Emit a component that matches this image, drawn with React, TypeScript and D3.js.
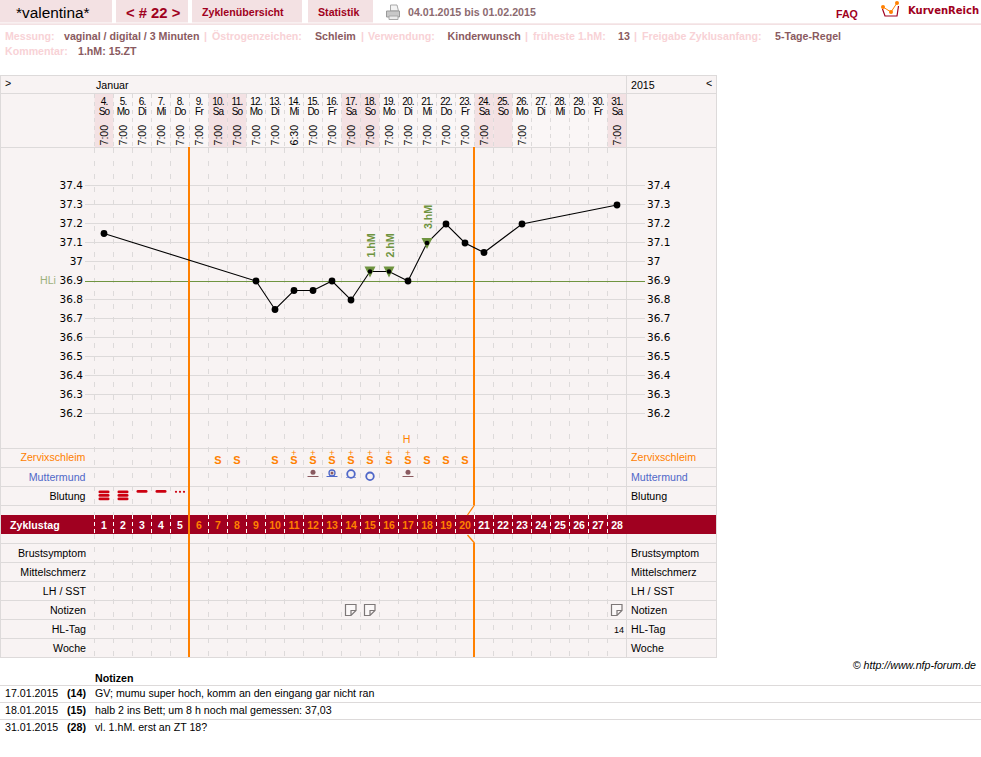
import React from "react";
import * as d3 from "d3";

// calendar
const dates = d3.range(4, 32);
const weekdays = ["So","Mo","Di","Mi","Do","Fr","Sa","So","Mo","Di","Mi","Do","Fr","Sa","So","Mo","Di","Mi","Do","Fr","Sa","So","Mo","Di","Mi","Do","Fr","Sa"];
const times: Record<number, string> = {4:"7:00",5:"7:00",6:"7:00",7:"7:00",8:"7:00",9:"7:00",10:"7:00",11:"7:00",12:"7:00",13:"7:00",14:"6:30",15:"7:00",16:"7:00",17:"7:00",18:"7:00",19:"7:00",20:"7:00",21:"7:00",22:"7:00",23:"7:00",24:"7:00",26:"7:00",31:"7:00"};

// temperature
const tempDates = [4, 12, 13, 14, 15, 16, 17, 18, 19, 20, 21, 22, 23, 24, 26, 31];
const tempValues = [37.15, 36.9, 36.75, 36.85, 36.85, 36.9, 36.8, 36.95, 36.95, 36.9, 37.1, 37.2, 37.1, 37.05, 37.2, 37.3];
const yTicks = [37.4, 37.3, 37.2, 37.1, 37, 36.9, 36.8, 36.7, 36.6, 36.5, 36.4, 36.3, 36.2];
const coverLine = 36.9;
const peakMarks = [{ date: 18, label: "1.hM" }, { date: 19, label: "2.hM" }, { date: 21, label: "3.hM" }];

// cycle rows, keyed by cycle day
const cycleDays = d3.range(1, 29);
const mucusPlain = [7, 8, 10, 18, 19, 20];
const mucusPlus = [11, 12, 13, 14, 15, 16, 17];
const mucusPeak = 17;
const cervixDot = [12, 17];
const cervixHalf = [13];
const cervixOpenHigh = [14];
const cervixOpenLow = [15];
const bleedHeavy = [1, 2];
const bleedMedium = [3, 4];
const bleedLight = [5];
const noteDays = [14, 15, 28];
const hlDay = 28;
const hlCount = "14";
const phaseStart = 6;
const phaseEnd = 21;

const lowerRows = ["Brustsymptom", "Mittelschmerz", "LH / SST", "Notizen", "HL-Tag", "Woche"];
const notes = [
  { date: "17.01.2015", day: "(14)", text: "GV; mumu super hoch, komm an den eingang gar nicht ran" },
  { date: "18.01.2015", day: "(15)", text: "halb 2 ins Bett; um 8 h noch mal gemessen: 37,03" },
  { date: "31.01.2015", day: "(28)", text: "vl. 1.hM. erst an ZT 18?" },
];

const width = 981, height = 757;
const font = "'Liberation Sans', Arial, sans-serif";
const grid = "#dddada", pink = "#f3e1e3", panel = "#f8f3f3", wine = "#a00020", orange = "#ff8000";
const green = "#6f9440", blue = "#5068c8", brown = "#8a5a60", faint = "#f8d2d6";

const x = d3.scaleBand<number>().domain(dates).range([94.5, 626.5]);
const cx = (d: number) => x(d)! + x.bandwidth() / 2;
const dayX = d3.scaleBand<number>().domain(cycleDays).range([94.5, 626.5]);
const dx = (d: number) => dayX(d)! + dayX.bandwidth() / 2;
const y = d3.scaleLinear().domain([36.2, 37.4]).range([414, 186]);
const line = d3.line<number>().x((_, i) => cx(tempDates[i])).y((v) => y(v));
const rowLines = [448, 467, 486, 505, 543, 562, 581, 600, 619, 638];

const HLine = ({ y0, x1 = 1, x2 = 716, c = grid }: { y0: number; x1?: number; x2?: number; c?: string }) => (
  <line x1={x1} x2={x2} y1={y0 + 0.5} y2={y0 + 0.5} stroke={c} shapeRendering="crispEdges" />
);

const Tab = ({ a, b }: { a: number; b: number }) => <rect x={a} y={0} width={b - a} height={22.5} fill={pink} />;

const Note = ({ cxp }: { cxp: number }) => (
  <path
    d={`M${cxp - 5.5},604.5 h10.5 v6 l-5,5 h-5.5 z M${cxp + 5},610.5 h-5 v5`}
    fill="#fbf8f8"
    stroke="#7d7878"
    strokeWidth={1.2}
  />
);

export default function App() {
  const xs = d3.range(0, 29).map((i) => 94 + i * 19);
  return (
    <svg width={width} height={height} style={{ position: "absolute", left: 0, top: 0, fontFamily: font, fontSize: 10.65 }}>
      {/* header tabs */}
      <Tab a={0} b={112} />
      <Tab a={116} b={188} />
      <Tab a={192} b={302} />
      <Tab a={308} b={373} />
      <rect x={0} y={23.3} width={981} height={1.7} fill={pink} />
      <text x={16} y={18} fontSize={15.4}>*valentina*</text>
      <text x={126} y={18} fontSize={14.8} fontWeight="bold" fill={wine}>{"< # 22 >"}</text>
      <text x={202} y={16} fontWeight="bold" fill={wine}>Zyklenübersicht</text>
      <text x={318} y={16} fontWeight="bold" fill={wine}>Statistik</text>
      <path d="M390.5,5 h6.5 l1.5,6 h-8 z" fill="#f4f4f4" stroke="#a8a8a8" />
      <path d="M386.5,11 h13 v6 h-13 z" fill="#c8c8c8" stroke="#9a9a9a" />
      <path d="M389,16 h9 v3.5 h-9 z" fill="#ececec" stroke="#a8a8a8" />
      <text x={408} y={16} fontWeight="bold" fill="#8c6a70">04.01.2015 bis 01.02.2015</text>
      <text x={836} y={18} fontWeight="bold" fill={wine}>FAQ</text>
      <path d="M882.5,9 L885,16 H897 L898.5,6" fill="none" stroke={wine} strokeWidth={1.2} />
      <path d="M883,7 L891,12 L897,3" fill="none" stroke={orange} strokeWidth={1} />
      <circle cx={883} cy={7} r={2} fill={orange} />
      <circle cx={891} cy={12} r={2} fill={orange} />
      <circle cx={897} cy={3} r={2} fill={orange} />
      <text x={908} y={14} fontFamily="'DejaVu Sans'" fontSize={10} fontWeight="bold" fill={wine}>KurvenReich</text>

      {/* settings lines */}
      <g fontWeight="bold" fill={faint}>
        <text x={5} y={40}>Messung:</text>
        <text x={64} y={40} fill={brown}>vaginal / digital / 3 Minuten</text>
        <text x={204} y={40}>|</text>
        <text x={212} y={40}>Östrogenzeichen:</text>
        <text x={315} y={40} fill={brown}>Schleim</text>
        <text x={361} y={40}>|</text>
        <text x={368} y={40}>Verwendung:</text>
        <text x={447.5} y={40} fill={brown}>Kinderwunsch</text>
        <text x={525} y={40}>|</text>
        <text x={533} y={40}>früheste 1.hM:</text>
        <text x={618} y={40} fill={brown}>13</text>
        <text x={634} y={40}>|</text>
        <text x={642} y={40}>Freigabe Zyklusanfang:</text>
        <text x={775} y={40} fill={brown}>5-Tage-Regel</text>
        <text x={5} y={55}>Kommentar:</text>
        <text x={78} y={55} fill={brown}>1.hM: 15.ZT</text>
      </g>

      {/* chart panel */}
      <rect x={1} y={75} width={716} height={583} fill={panel} />
      {dates.map((d, i) => (
        <rect key={d} x={x(d)} y={94} width={x.bandwidth()} height={54}
          fill={weekdays[i] === "Sa" || weekdays[i] === "So" ? pink : "#faf6f6"} />
      ))}
      <rect x={1} y={515} width={716} height={19} fill={wine} />

      {xs.map((v) => (
        <line key={v} x1={v + 0.5} x2={v + 0.5} y1={94} y2={148} stroke={grid} strokeDasharray="4 4" shapeRendering="crispEdges" />
      ))}
      {xs.slice(0, 28).map((v) => (
        <g key={v}>
          <line x1={v + 0.5} x2={v + 0.5} y1={148} y2={515} stroke={grid} strokeDasharray="5 8" shapeRendering="crispEdges" />
          <line x1={v + 0.5} x2={v + 0.5} y1={515} y2={534} stroke="#fff" strokeDasharray="4 3" shapeRendering="crispEdges" />
          <line x1={v + 0.5} x2={v + 0.5} y1={534} y2={657} stroke={grid} strokeDasharray="5 8" shapeRendering="crispEdges" />
        </g>
      ))}

      {/* frame */}
      <HLine y0={75} x1={0} x2={717} />
      <HLine y0={93} x1={0} x2={717} />
      <HLine y0={147} x1={0} x2={717} />
      {rowLines.map((r) => <HLine key={r} y0={r} />)}
      <HLine y0={657} x1={0} x2={717} />
      <line x1={0.5} x2={0.5} y1={75} y2={658} stroke={grid} />
      <line x1={716.5} x2={716.5} y1={75} y2={658} stroke={grid} />
      <line x1={626.5} x2={626.5} y1={75} y2={515} stroke={grid} />
      <line x1={626.5} x2={626.5} y1={534} y2={658} stroke={grid} />

      <text x={5} y={87}>{">"}</text>
      <text x={96} y={89}>Januar</text>
      <text x={631} y={89}>2015</text>
      <text x={706} y={87}>{"<"}</text>

      {dates.map((d, i) => (
        <g key={d} textAnchor="middle" fontSize={10} letterSpacing={-0.8}>
          <text x={cx(d)} y={105}>{d}.</text>
          <text x={cx(d)} y={115}>{weekdays[i]}</text>
          {times[d] && (
            <text transform={`translate(${cx(d) + 4},145.5) rotate(-90)`} textAnchor="start" fontSize={10.65} letterSpacing={0}>{times[d]}</text>
          )}
        </g>
      ))}

      {/* temperature */}
      {yTicks.map((t) => (
        <g key={t} fontFamily="'DejaVu Sans'" fontSize={10.5}>
          <HLine y0={Math.round(y(t)) - (t === coverLine ? 0 : 1)} x1={85} x2={645} c={t === coverLine ? green : grid} />
          <text x={83} y={y(t) + 3} textAnchor="end">{t}</text>
          <text x={647} y={y(t) + 3}>{t}</text>
        </g>
      ))}
      <text x={40} y={y(coverLine) + 3} fill="#9cb07c">HLi</text>

      {/* phase lines */}
      <line x1={x(phaseStart + 3)! - 0.5} x2={x(phaseStart + 3)! - 0.5} y1={147} y2={657} stroke={orange} strokeWidth={2} />
      <line x1={x(phaseEnd + 3)! - 0.5} x2={x(phaseEnd + 3)! - 0.5} y1={147} y2={505} stroke={orange} strokeWidth={2} />
      <line x1={x(phaseEnd + 3)! - 0.5} x2={x(phaseEnd + 3)! - 0.5} y1={543} y2={657} stroke={orange} strokeWidth={2} />
      <path d={`M${x(phaseEnd + 3)!},505 l-7,10`} stroke={orange} strokeWidth={1.3} fill="none" />
      <path d={`M${x(phaseEnd + 3)!},543 l-7,-8`} stroke={orange} strokeWidth={1.3} fill="none" />

      <path d={line(tempValues)!} fill="none" stroke="#000" strokeWidth={1.1} />
      {peakMarks.map((m) => {
        const v = tempValues[tempDates.indexOf(m.date)];
        return (
          <g key={m.label}>
            <path d={`M${cx(m.date) - 5.5},${y(v) - 5} h11 l-5.5,11 z`} fill={green} />
            <text transform={`translate(${cx(m.date) + 4.5},${y(v) - 14}) rotate(-90)`} fontWeight="bold" fill={green}>{m.label}</text>
          </g>
        );
      })}
      {tempValues.map((v, i) => {
        const mark = peakMarks.some((m) => m.date === tempDates[i]);
        return <circle key={i} cx={cx(tempDates[i])} cy={y(v)} r={mark ? 2.3 : 3.4} fill="#000" />;
      })}

      {/* mucus */}
      <text x={85.5} y={461} textAnchor="end" fill={orange}>Zervixschleim</text>
      <text x={631} y={461} fill={orange}>Zervixschleim</text>
      <text x={85.5} y={481} textAnchor="end" fill={blue}>Muttermund</text>
      <text x={631} y={481} fill={blue}>Muttermund</text>
      <text x={85.5} y={500} textAnchor="end">Blutung</text>
      <text x={631} y={500}>Blutung</text>
      <g fill={orange} fontWeight="bold" textAnchor="middle">
        {[...mucusPlain, ...mucusPlus].map((d) => <text key={d} x={dx(d)} y={464} fontSize={11}>S</text>)}
        {mucusPlus.map((d) => <text key={d} x={dx(d)} y={455.5} fontWeight="normal" fontSize={9}>+</text>)}
        <text x={dx(mucusPeak) - 1.5} y={443} fontWeight="normal">H</text>
      </g>

      {/* cervix */}
      {cervixDot.map((d) => (
        <g key={d}>
          <circle cx={dx(d)} cy={472.3} r={2.5} fill={brown} />
          <line x1={dx(d) - 5.5} x2={dx(d) + 5.5} y1={476.5} y2={476.5} stroke={brown} />
        </g>
      ))}
      {cervixHalf.map((d) => (
        <g key={d}>
          <circle cx={dx(d)} cy={473} r={1.5} fill={brown} />
          <circle cx={dx(d)} cy={473} r={3} fill="none" stroke={blue} strokeWidth={1.3} />
          <line x1={dx(d) - 5.5} x2={dx(d) + 5.5} y1={476.5} y2={476.5} stroke={blue} />
        </g>
      ))}
      {cervixOpenHigh.map((d) => (
        <g key={d}>
          <line x1={dx(d) - 5} x2={dx(d) + 5} y1={477.5} y2={477.5} stroke={blue} strokeWidth={0.6} />
          <circle cx={dx(d)} cy={474} r={3.8} fill="none" stroke={blue} strokeWidth={1.8} />
        </g>
      ))}
      {cervixOpenLow.map((d) => <circle key={d} cx={dx(d)} cy={476.3} r={3.8} fill="none" stroke={blue} strokeWidth={1.8} />)}

      {/* bleeding */}
      <g fill="#cc0010">
        {bleedHeavy.map((d) => [490.5, 494, 497.5].map((b) => (
          <rect key={`${d}-${b}`} x={dx(d) - 5.5} y={b} width={11} height={2.8} rx={1.3} />
        )))}
        {bleedMedium.map((d) => <rect key={d} x={dx(d) - 5.5} y={490} width={11} height={2.7} rx={1.3} />)}
        {bleedLight.map((d) => [-4, 0, 4].map((o) => <circle key={o} cx={dx(d) + o} cy={491.8} r={1.1} />))}
      </g>

      {/* cycle band */}
      <text x={10} y={528.5} fontWeight="bold" fill="#fff">Zyklustag</text>
      {cycleDays.map((d) => (
        <text key={d} x={dx(d)} y={528.5} textAnchor="middle" fontWeight="bold" fontSize={10.5}
          fill={d >= phaseStart && d < phaseEnd ? orange : "#fff"}>{d}</text>
      ))}

      {/* lower rows */}
      {lowerRows.map((r, i) => (
        <text key={r} x={86} y={557 + i * 19} textAnchor="end">{r}</text>
      ))}
      {lowerRows.map((r, i) => <text key={r} x={631} y={557 + i * 19}>{r}</text>)}
      {noteDays.map((d) => <Note key={d} cxp={dx(d)} />)}
      <text x={dx(hlDay) + 2} y={633} textAnchor="middle" fontSize={9}>{hlCount}</text>

      <text x={976} y={668.5} textAnchor="end" fontStyle="italic">© http://www.nfp-forum.de</text>

      {/* notes */}
      <text x={95} y={681.5} fontWeight="bold">Notizen</text>
      {notes.map((n, i) => (
        <g key={n.date}>
          <HLine y0={685 + i * 17} x1={0} x2={981} />
          <text x={5} y={697 + i * 17}>{n.date}</text>
          <text x={86} y={697 + i * 17} textAnchor="end" fontWeight="bold">{n.day}</text>
          <text x={95} y={697 + i * 17}>{n.text}</text>
        </g>
      ))}
    </svg>
  );
}
